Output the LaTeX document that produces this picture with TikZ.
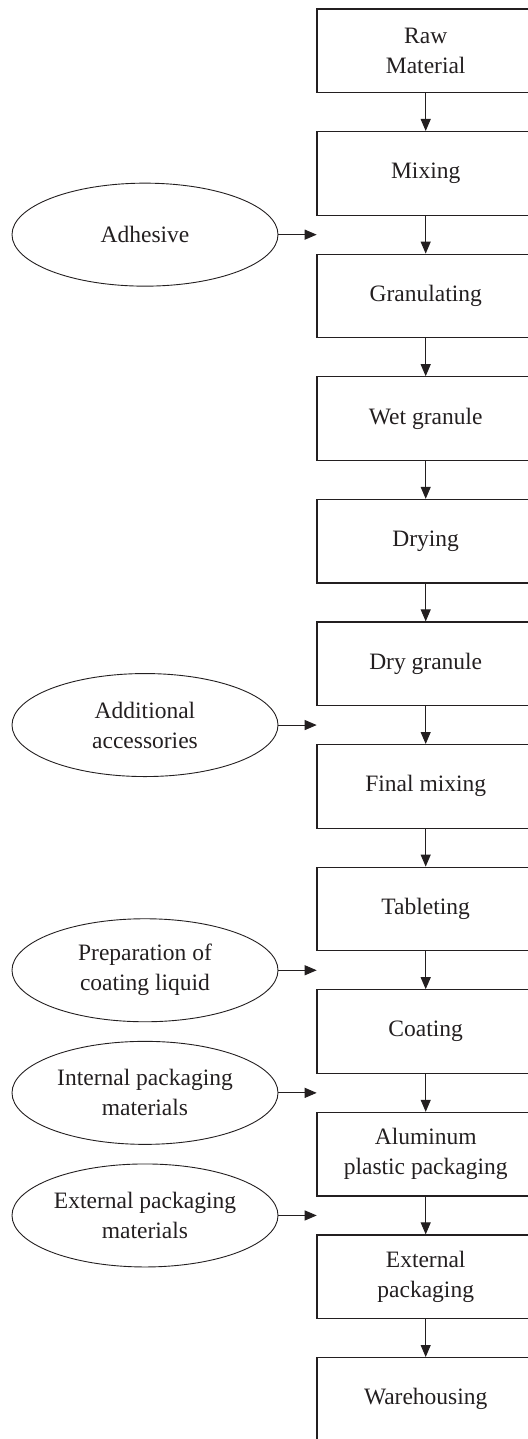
\documentclass[tikz,border=0pt]{standalone}
\usepackage{fontspec}
\setmainfont{Liberation Serif}
\usetikzlibrary{shapes.geometric,arrows.meta}
\definecolor{ink}{HTML}{231F20}
\begin{document}
\begin{tikzpicture}[x=1bp,y=-1bp,
  font=\fontsize{23.5bp}{30bp}\selectfont,
  stepbox/.style={draw=ink,line width=1.2bp,minimum width=217.4bp,minimum height=83.5bp,inner sep=0pt,align=center,text=ink},
  inbox/.style={draw=ink,line width=0.9bp,ellipse,minimum width=266bp,minimum height=103bp,inner sep=0pt,align=center,text=ink},
  flow/.style={draw=ink,line width=1bp,-{Triangle[length=12bp,width=10bp]}}]
\clip (0,0) rectangle (528,1439);
\foreach \n/\t [count=\i from 0] in {b0/{Raw\\Material},b1/Mixing,b2/Granulating,b3/Wet granule,b4/Drying,b5/Dry granule,b6/Final mixing,b7/Tableting,b8/Coating,b9/{Aluminum\\plastic packaging},b10/{External\\packaging},b11/Warehousing}
  \node[stepbox] (\n) at (425.7,{9+\i*122.6+41.75}) {\t};
\foreach \i [evaluate=\i as \j using int(\i+1)] in {0,...,10}
  \draw[flow] (b\i.south) -- (b\j.north);
% side inputs
\foreach \e/\t/\k in {e1/Adhesive/1,e5/{Additional\\accessories}/5,e7/{Preparation of\\coating liquid}/7,e8/{Internal packaging\\materials}/8,e9/{External packaging\\materials}/9}{
  \coordinate (m\k) at (316.7,{9+\k*122.6+83.5+19.55});
  \node[inbox] (\e) at (145,{9+\k*122.6+83.5+19.55}) {\t};
  \draw[flow] (\e.east) -- (m\k);
}
\end{tikzpicture}
\end{document}
